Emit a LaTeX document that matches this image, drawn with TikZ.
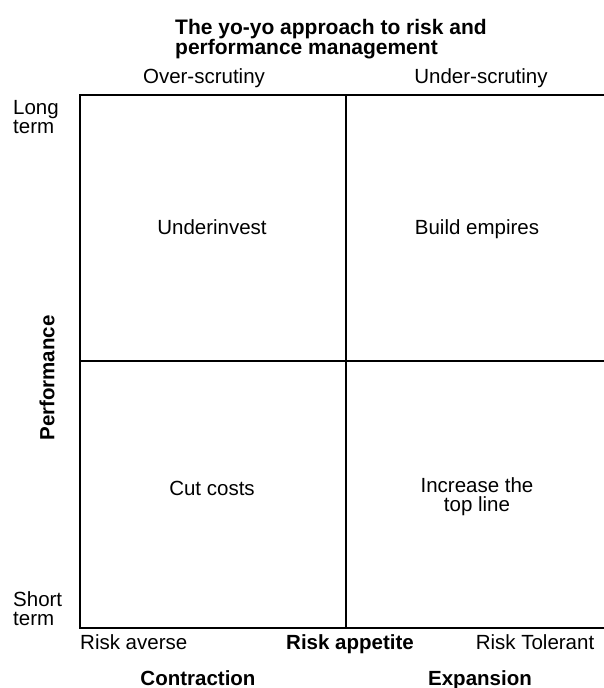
\documentclass[tikz,border=0pt]{standalone}
\usepackage{fontspec}
\setmainfont{Liberation Sans}
\begin{document}
\begin{tikzpicture}[x=1bp,y=-1bp,
  lbl/.style={font=\fontsize{20.5bp}{19bp}\selectfont, inner sep=0pt, anchor=base},
  blbl/.style={font=\fontsize{20.5bp}{19bp}\selectfont\bfseries, inner sep=0pt, anchor=base},
  twoline/.style={font=\fontsize{20.5bp}{19.5bp}\selectfont, inner sep=0pt},
  frame/.style={line width=2.8bp, black}]
\useasboundingbox (0,0) rectangle (604,688);
% frame
\coordinate (tl) at (80,95);
\coordinate (bl) at (80,628);
\coordinate (tr) at (604,95);
\coordinate (br) at (604,628);
\coordinate (mt) at (346,95);
\coordinate (mb) at (346,628);
\coordinate (ml) at (80,361);
\coordinate (mr) at (604,361);
\draw[frame, line cap=rect] (tr) -- (tl) -- (bl) -- (br);
\draw[frame] (mt) -- (mb);
\draw[frame] (ml) -- (mr);
% title
\node[font=\fontsize{21bp}{20bp}\selectfont\bfseries, inner sep=0pt, align=left, anchor=north west] (title) at (175,19) {The yo-yo approach to risk and\\performance management};
% top labels
\node[lbl] (over) at (204,84) {Over-scrutiny};
\node[lbl] (under) at (481,84) {Under-scrutiny};
% side labels
\node[twoline, align=left, anchor=north west] (long) at (13,100) {Long\\term};
\node[twoline, align=left, anchor=north west] (short) at (13,591) {Short\\term};
\node[font=\fontsize{20.5bp}{19bp}\selectfont\bfseries, inner sep=0pt, rotate=90] (perf) at (47,378) {Performance};
% quadrants
\node[lbl] (q1) at (212,234) {Underinvest};
\node[lbl] (q2) at (477,234) {Build empires};
\node[lbl] (q3) at (212,495) {Cut costs};
\node[twoline, align=center, anchor=north] (q4) at (477,477) {Increase the\\top line};
% bottom labels
\node[lbl, anchor=base west] (averse) at (80,649) {Risk averse};
\node[blbl] (appetite) at (350,649) {Risk appetite};
\node[lbl] (tolerant) at (535,649) {Risk Tolerant};
\node[blbl] (contr) at (198,685) {Contraction};
\node[blbl] (expan) at (480,685) {Expansion};
\end{tikzpicture}
\end{document}
